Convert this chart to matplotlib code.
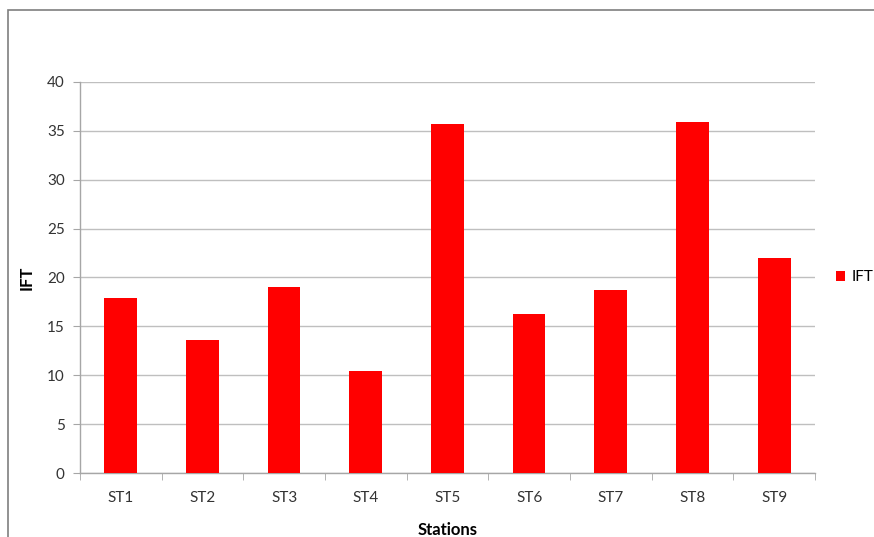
import matplotlib.pyplot as plt
from matplotlib.patches import Rectangle
import numpy as np

plt.rcParams['font.family'] = ['Lato', 'DejaVu Sans']

stations = ["ST1", "ST2", "ST3", "ST4", "ST5", "ST6", "ST7", "ST8", "ST9"]
ift = [17.9, 13.6, 19.0, 10.4, 35.7, 16.3, 18.7, 35.9, 22.0]

fig = plt.figure(figsize=(8.74, 5.37), dpi=100)
ax = fig.add_axes([0.0915, 0.1186, 0.841, 0.7293])

# outer chart frame (cut at right/bottom like the screenshot)
fig.patches.append(Rectangle((8 / 874, -0.1), 1.1, 1 - 10 / 537 + 0.1,
                             transform=fig.transFigure, fill=False,
                             edgecolor='#7f7f7f', linewidth=1.2))

x = np.arange(len(stations))
ax.bar(x, ift, width=0.4, color='#ff0000', label='IFT', zorder=3)

ax.set_xlim(-0.5, len(stations) - 0.5)
ax.set_ylim(0, 40)
ax.set_yticks(range(0, 41, 5))
ax.set_xticks(x)
ax.set_xticklabels(stations)
ax.set_xticks(np.arange(-0.5, len(stations), 1), minor=True)

ax.grid(True, axis='y', color='#bfbfbf', linewidth=1, zorder=0)
for s in ['top', 'right']:
    ax.spines[s].set_visible(False)
for s in ['left', 'bottom']:
    ax.spines[s].set_color('#a6a6a6')
    ax.spines[s].set_linewidth(1)

ax.tick_params(axis='x', which='major', length=0, pad=13, labelsize=11, labelcolor='#333333')
ax.tick_params(axis='x', which='minor', length=5, color='#a6a6a6')
ax.tick_params(axis='y', length=5, color='#a6a6a6', pad=6, labelsize=11, labelcolor='#333333')

ax.set_xlabel('Stations', fontsize=12, fontweight='bold', labelpad=12)
ax.set_ylabel('IFT', fontsize=12, fontweight='bold', labelpad=9)

ax.legend(loc='center left', bbox_to_anchor=(1.01, 0.5), frameon=False,
          fontsize=11, handlelength=0.6, handleheight=0.6, handletextpad=0.4)

fig.savefig('out.png', dpi=100)
